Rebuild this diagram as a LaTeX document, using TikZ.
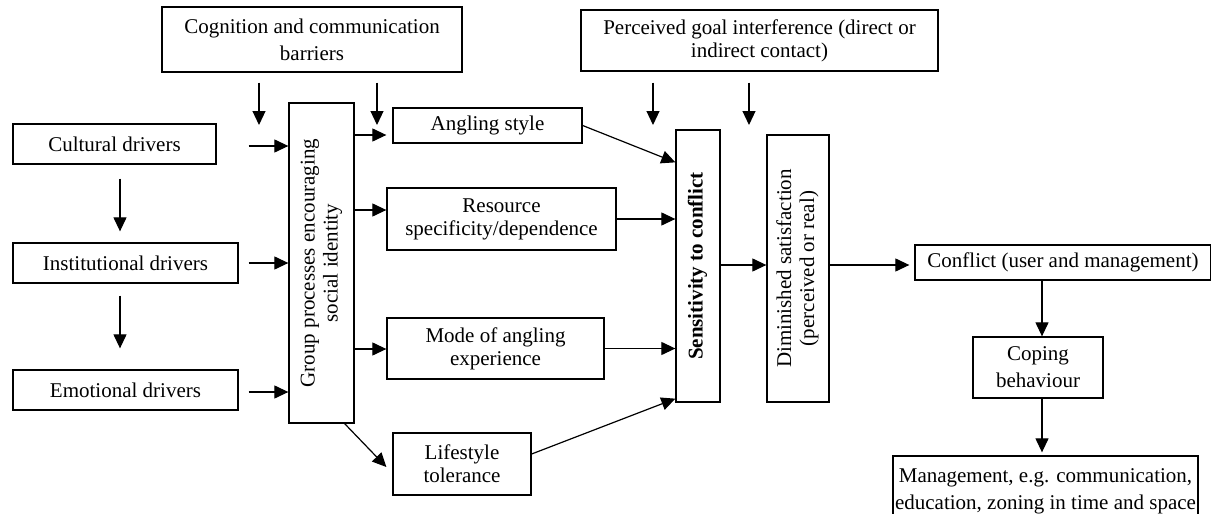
\documentclass[tikz,border=0pt]{standalone}
\usepackage{fontspec}
\setmainfont{Liberation Serif}
\usepackage{graphicx}
\usetikzlibrary{arrows.meta}
\newcommand{\rottext}[1]{\rotatebox{90}{\begin{tabular}{@{}c@{}}#1\end{tabular}}}
\tikzset{
  every node/.style={font=\fontsize{21}{23}\selectfont},
  box/.style={draw, line width=1.3pt, inner sep=0pt, align=center},
  wide/.style={font=\fontsize{21}{27}\selectfont},
  arr/.style={line width=1.2pt, -{Triangle[length=14pt,width=13pt]}}
}
\begin{document}
\begin{tikzpicture}[x=1pt,y=-1pt]
\useasboundingbox (0,0) rectangle (1211,514);
\clip (0,0) rectangle (1211,514);
% boxes
\node[box,wide,minimum width=300pt,minimum height=65pt] (cog) at (312,39.5) {Cognition and communication\\barriers};
\node[box,minimum width=357pt,minimum height=61pt] (per) at (759.5,40.5) {Perceived goal interference (direct or\\indirect contact)};
\node[box,minimum width=203pt,minimum height=40pt] (cul) at (114.5,144) {Cultural drivers};
\node[box,minimum width=225pt,minimum height=40pt] (ins) at (125.5,263) {Institutional drivers};
\node[box,minimum width=225pt,minimum height=40pt] (emo) at (125.5,390) {Emotional drivers};
\node[box,minimum width=65pt,minimum height=320pt] (grp) at (321.5,263) {\rottext{Group processes encouraging\\social identity}};
\node[box,minimum width=189pt,minimum height=35pt] (ang) at (487.5,125.5) {Angling style};
\node[box,minimum width=229pt,minimum height=62pt] (res) at (501.5,219) {Resource\\specificity/dependence};
\node[box,minimum width=217pt,minimum height=61pt] (mode) at (495.5,348.5) {Mode of angling\\experience};
\node[box,minimum width=138pt,minimum height=62pt] (life) at (462,464) {Lifestyle\\tolerance};
\node[box,minimum width=44pt,minimum height=272pt] (sens) at (698,266) {\rottext{\bfseries Sensitivity to conflict}};
\node[box,minimum width=62pt,minimum height=267pt] (dim) at (798,268.5) {\rottext{Diminished satisfaction\\(perceived or real)}};
\node[box,minimum width=296pt,minimum height=35pt] (con) at (1063,262.5) {Conflict (user and management)};
\node[box,wide,minimum width=130pt,minimum height=61pt] (cop) at (1038,367.5) {Coping\\behaviour};
\node[box,wide,minimum width=305pt,minimum height=70pt] (mgmt) at (1045.5,491) {Management, e.g. communication,\\education, zoning in time and space};
% helper coordinates
\coordinate (yA) at (0,135);
\coordinate (yR) at (0,210);
\coordinate (yM) at (0,349);
\coordinate (yC) at (0,146);
\coordinate (yI) at (0,263);
\coordinate (yE) at (0,392);
\coordinate (yD) at (0,265);
\coordinate (xD) at (120,0);
\coordinate (xK) at (1042,0);
\coordinate (cl) at (259,125);
\coordinate (cr) at (377,125);
\coordinate (pl) at (653,125);
\coordinate (pr) at (749,125);
% arrows
\draw[arr, shorten <=14pt, shorten >=11pt] (cul.south -| xD) -- (ins.north -| xD);
\draw[arr, shorten <=12pt, shorten >=21pt] (ins.south -| xD) -- (emo.north -| xD);
\draw[arr, shorten <=32pt] (cul.east |- yC) -- (grp.west |- yC);
\draw[arr, shorten <=10pt] (ins.east |- yI) -- (grp.west |- yI);
\draw[arr, shorten <=10pt] (emo.east |- yE) -- (grp.west |- yE);
\draw[arr, shorten <=10pt] (cog.south -| cl) -- (cl);
\draw[arr, shorten <=10pt] (cog.south -| cr) -- (cr);
\draw[arr, shorten >=6pt] (grp.east |- yA) -- (ang.west |- yA);
\draw[arr] (grp.east |- yR) -- (res.west |- yR);
\draw[arr] (grp.east |- yM) -- (mode.west |- yM);
\draw[arr] ([xshift=-10pt]grp.south east) -- ([xshift=-6pt,yshift=-3pt]life.west);
\draw[arr] (ang.east) -- ([yshift=-33pt]sens.north west);
\draw[arr] (res.east) -- (sens.west |- res.east);
\draw[arr] (mode.east) -- (sens.west |- mode.east);
\draw[arr] ([yshift=10pt]life.east) -- ([yshift=4pt]sens.south west);
\draw[arr, shorten <=11pt] (per.south -| pl) -- (pl);
\draw[arr, shorten <=11pt] (per.south -| pr) -- (pr);
\draw[arr] (sens.east |- yD) -- (dim.west |- yD);
\draw[arr, shorten >=5pt] (dim.east |- yD) -- (con.west |- yD);
\draw[arr] (con.south -| xK) -- (cop.north -| xK);
\draw[arr, shorten >=3pt] (cop.south -| xK) -- (mgmt.north -| xK);
\end{tikzpicture}
\end{document}
